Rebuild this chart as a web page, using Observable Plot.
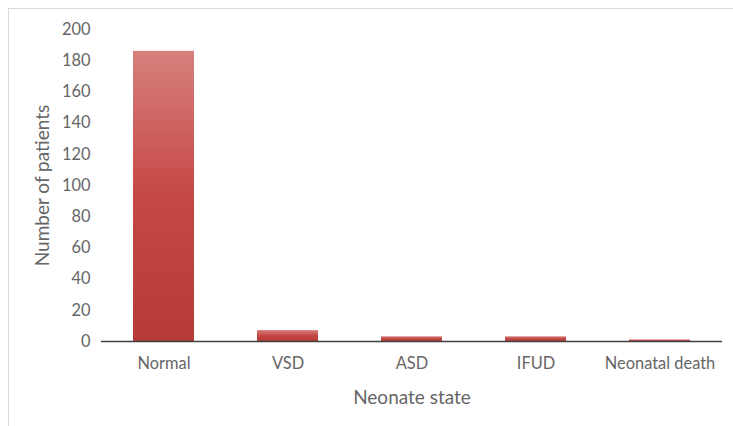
<!DOCTYPE html>
<html>
<head>
<meta charset="utf-8">
<script src="https://cdn.jsdelivr.net/npm/d3@7"></script>
<script src="https://cdn.jsdelivr.net/npm/@observablehq/plot@0.6"></script>
<style>
  html, body { margin: 0; padding: 0; background: #fff; }
  #wrap { position: relative; width: 733px; height: 426px; overflow: hidden; }
  #edge { position: absolute; left: 8px; top: 8px; width: 800px; height: 500px;
          border-top: 1px solid #d9d9d9; border-left: 1px solid #d9d9d9; box-sizing: border-box; }
  #chart { position: absolute; left: 0; top: 0; }
</style>
</head>
<body>
<div id="wrap"><div id="edge"></div><div id="chart"></div></div>
<script>
// Neonatal outcomes: number of patients per state
const states = ["Normal", "VSD", "ASD", "IFUD", "Neonatal death"];
const patients = [186, 7, 3, 3, 1];
const yTicks = [0, 20, 40, 60, 80, 100, 120, 140, 160, 180, 200];

const rows = states.map((s, i) => ({state: s, count: patients[i]}));
const font = "Lato, 'Open Sans', sans-serif";

const plot = Plot.plot({
  width: 733,
  height: 426,
  marginLeft: 101,
  marginRight: 11,
  marginTop: 29,
  marginBottom: 85,
  style: {fontFamily: font, fontSize: "16px", color: "#595959", background: "transparent", overflow: "visible"},
  x: {domain: states, paddingInner: 0.51, paddingOuter: 0.255, label: null},
  y: {domain: [0, 200], label: null},
  marks: [
    Plot.barY(rows, {x: "state", y: "count", fill: "url(#barShade)"}),
    Plot.axisY({ticks: yTicks, tickSize: 0, tickPadding: 11, fontSize: 16.4, fill: "#666"}),
    Plot.axisX({tickSize: 0, tickPadding: 16, fontSize: 16.4, fill: "#666"}),
    Plot.ruleX([0], {frameAnchor: "left", stroke: "#404040", strokeWidth: 1.5}),
    Plot.ruleY([0], {stroke: "#404040", strokeWidth: 1.5}),
    Plot.text(["Neonate state"], {frameAnchor: "bottom", dy: 62, fontSize: 19, fill: "#666"}),
    Plot.text(["Number of patients"], {frameAnchor: "left", textAnchor: "middle", dx: -59, rotate: -90, fontSize: 19, fill: "#666"})
  ]
});

// vertical shading used by every bar
const defs = d3.select(plot).insert("defs", ":first-child");
const grad = defs.append("linearGradient")
  .attr("id", "barShade")
  .attr("x1", 0).attr("y1", 0).attr("x2", 0).attr("y2", 1);
grad.append("stop").attr("offset", "0%").attr("stop-color", "#d6807d");
grad.append("stop").attr("offset", "50%").attr("stop-color", "#c54845");
grad.append("stop").attr("offset", "100%").attr("stop-color", "#b63a36");

document.getElementById("chart").appendChild(plot);
</script>
</body>
</html>
